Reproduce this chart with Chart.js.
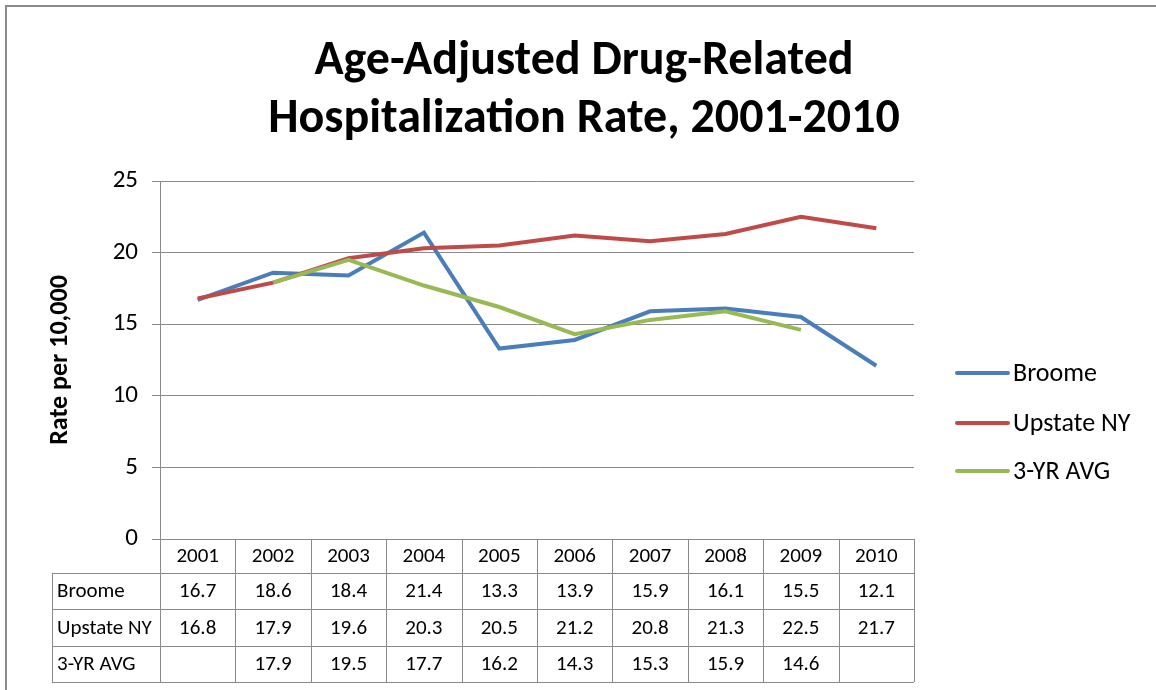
<!DOCTYPE html>
<html>
<head>
<meta charset="utf-8">
<script src="https://cdn.jsdelivr.net/npm/chart.js@4"></script>
<style>
  html, body { margin: 0; padding: 0; background: #fff; }
  #wrap { width: 1156px; height: 690px; position: relative; }
</style>
</head>
<body>
<div id="wrap"><canvas id="chart" width="1156" height="690"></canvas></div>
<script>
const years = ["2001", "2002", "2003", "2004", "2005", "2006", "2007", "2008", "2009", "2010"];
const broome = [16.7, 18.6, 18.4, 21.4, 13.3, 13.9, 15.9, 16.1, 15.5, 12.1];
const upstate = [16.8, 17.9, 19.6, 20.3, 20.5, 21.2, 20.8, 21.3, 22.5, 21.7];
const avg3 = [null, 17.9, 19.5, 17.7, 16.2, 14.3, 15.3, 15.9, 14.6, null];
const seriesNames = ["Broome", "Upstate NY", "3-YR AVG"];
const seriesColors = ["#4A7EBB", "#BE4B48", "#98B954"];
const yTicks = [0, 5, 10, 15, 20, 25];

const FONT = "Carlito, Lato, 'Liberation Sans', sans-serif";
const GRID = "#8a8a8a";

// frame, title, legend and data table drawn around the plot
const extras = {
  id: "extras",
  afterDraw(chart) {
    const ctx = chart.ctx;
    const area = chart.chartArea;
    const x = chart.scales.x;
    const sets = [broome, upstate, avg3];

    ctx.save();
    // outer frame (top + left only visible)
    ctx.strokeStyle = "#8c8c8c";
    ctx.lineWidth = 2;
    ctx.beginPath();
    ctx.moveTo(6, 690);
    ctx.lineTo(6, 6);
    ctx.lineTo(1156, 6);
    ctx.stroke();

    // title, sized to the reference width
    ctx.fillStyle = "#000";
    ctx.textAlign = "center";
    ctx.textBaseline = "middle";
    ctx.font = `bold 40px ${FONT}`;
    const w = ctx.measureText("Hospitalization Rate, 2001-2010").width;
    const size = 40 * 632 / w;
    ctx.font = `bold ${size}px ${FONT}`;
    ctx.fillText("Age-Adjusted Drug-Related", 584, 62);
    ctx.fillText("Hospitalization Rate, 2001-2010", 584, 120);

    // legend
    ctx.font = `26px ${FONT}`;
    ctx.textAlign = "left";
    const legY = [373, 423, 471];
    seriesNames.forEach((name, i) => {
      ctx.strokeStyle = seriesColors[i];
      ctx.lineWidth = 4;
      ctx.lineCap = "round";
      ctx.beginPath();
      ctx.moveTo(957, legY[i]);
      ctx.lineTo(1008, legY[i]);
      ctx.stroke();
      ctx.fillStyle = "#000";
      ctx.fillText(name, 1013, legY[i] + 1);
    });

    // data table
    const colW = (area.right - area.left) / years.length;
    const top = area.bottom;
    const rowTops = [top, top + 34, top + 70, top + 107, top + 143];
    const labelLeft = 52;
    ctx.strokeStyle = GRID;
    ctx.lineWidth = 1;
    ctx.lineCap = "butt";
    ctx.beginPath();
    for (let i = 1; i < rowTops.length; i++) {
      ctx.moveTo(labelLeft, Math.round(rowTops[i]) + 0.5);
      ctx.lineTo(area.right, Math.round(rowTops[i]) + 0.5);
    }
    for (let i = 0; i <= years.length; i++) {
      const cx = Math.round(area.left + i * colW) + 0.5;
      ctx.moveTo(cx, top);
      ctx.lineTo(cx, rowTops[4]);
    }
    ctx.moveTo(labelLeft + 0.5, rowTops[1]);
    ctx.lineTo(labelLeft + 0.5, rowTops[4]);
    ctx.stroke();

    ctx.fillStyle = "#000";
    ctx.font = `21px ${FONT}`;
    ctx.textBaseline = "middle";
    years.forEach((yr, i) => {
      ctx.textAlign = "center";
      const cx = x.getPixelForValue(i);
      ctx.fillText(yr, cx, (rowTops[0] + rowTops[1]) / 2 + 1);
      sets.forEach((s, r) => {
        if (s[i] == null) return;
        ctx.fillText(s[i].toFixed(1), cx, (rowTops[r + 1] + rowTops[r + 2]) / 2 + 1);
      });
    });
    ctx.textAlign = "left";
    seriesNames.forEach((name, r) => {
      ctx.fillText(name, labelLeft + 5, (rowTops[r + 1] + rowTops[r + 2]) / 2 + 1);
    });
    ctx.restore();
  },
};

new Chart(document.getElementById("chart"), {
  type: "line",
  data: {
    labels: years,
    datasets: [
      { label: seriesNames[0], data: broome, borderColor: seriesColors[0], order: 3 },
      { label: seriesNames[1], data: upstate, borderColor: seriesColors[1], order: 2 },
      { label: seriesNames[2], data: avg3, borderColor: seriesColors[2], order: 1 },
    ],
  },
  options: {
    responsive: false,
    animation: false,
    layout: { padding: { left: 45, top: 181, right: 242, bottom: 151 } },
    elements: {
      line: { borderWidth: 4, tension: 0, borderJoinStyle: "miter", fill: false },
      point: { radius: 0, hoverRadius: 0 },
    },
    plugins: { legend: { display: false }, title: { display: false }, tooltip: { enabled: false } },
    scales: {
      x: { type: "category", offset: true, display: false },
      y: {
        min: yTicks[0],
        max: yTicks[yTicks.length - 1],
        afterBuildTicks: (s) => { s.ticks = yTicks.map((v) => ({ value: v })); },
        afterFit: (s) => { s.width = 115; },
        ticks: { font: { family: FONT, size: 25 }, color: "#000", padding: 14 },
        grid: { color: GRID, tickLength: 8, lineWidth: 1 },
        border: { display: true, color: GRID },
        title: {
          display: true,
          text: "Rate per 10,000",
          font: { family: FONT, size: 26, weight: "bold" },
          color: "#000",
          padding: 0,
        },
      },
    },
  },
  plugins: [extras],
});
</script>
</body>
</html>
